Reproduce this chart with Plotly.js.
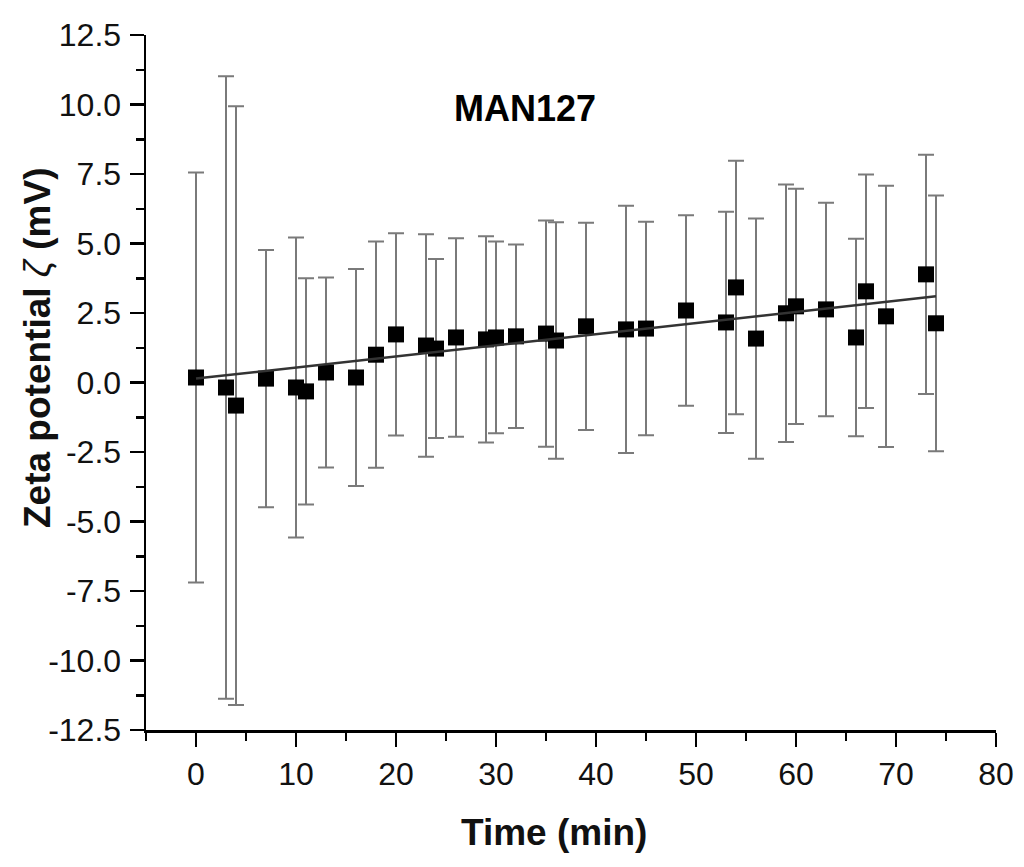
<!DOCTYPE html>
<html>
<head>
<meta charset="utf-8">
<script src="https://cdn.plot.ly/plotly-3.0.1.min.js"></script>
<style>
  html, body { margin: 0; padding: 0; background: #fff; }
  #chart { width: 1024px; height: 867px; }
</style>
</head>
<body>
<div id="chart"></div>
<script>
// Time points (min)
const timeMin = [0, 3, 4, 7, 10, 11, 13, 16, 18, 20, 23, 24, 26, 29, 30, 32, 35, 36,
    39, 43, 45, 49, 53, 54, 56, 59, 60, 63, 66, 67, 69, 73, 74];

// Zeta potential (mV)
const zeta = [0.18, -0.18, -0.83, 0.14, -0.18, -0.32, 0.36, 0.18, 1.0, 1.73, 1.33, 1.22,
    1.62, 1.55, 1.62, 1.66, 1.76, 1.51, 2.02, 1.91, 1.94, 2.59, 2.16, 3.42, 1.58, 2.49,
    2.74, 2.63, 1.62, 3.28, 2.38, 3.89, 2.13];

// Standard deviation (mV)
const zetaErr = [7.37, 11.2, 10.77, 4.63, 5.4, 4.07, 3.42, 3.9, 4.07, 3.64, 4.0, 3.22,
    3.57, 3.71, 3.45, 3.3, 4.07, 4.25, 3.73, 4.45, 3.84, 3.43, 3.98, 4.56, 4.32, 4.63,
    4.23, 3.84, 3.55, 4.2, 4.7, 4.3, 4.6];

// Linear fit end points
const fitX = [0, 74];
const fitY = [0.14, 3.1];

// Axis ticks
const xTicks = [0, 10, 20, 30, 40, 50, 60, 70, 80];
const yTicks = [-12.5, -10, -7.5, -5, -2.5, 0, 2.5, 5, 7.5, 10, 12.5];
const yTickText = ['-12.5', '-10.0', '-7.5', '-5.0', '-2.5', '0.0', '2.5', '5.0', '7.5', '10.0', '12.5'];

const FONT = 'Liberation Sans, Arial, sans-serif';
const tickFont = { family: FONT, size: 32, color: '#111' };
const titleFont = { family: FONT, size: 37, color: '#111' };

const traces = [
    {
        type: 'scatter',
        mode: 'markers',
        x: timeMin,
        y: zeta,
        error_y: {
            type: 'data',
            array: zetaErr,
            visible: true,
            color: '#7a7a7a',
            thickness: 2,
            width: 8
        },
        marker: { symbol: 'square', size: 16, color: '#000' },
        showlegend: false
    },
    {
        type: 'scatter',
        mode: 'lines',
        x: fitX,
        y: fitY,
        line: { color: '#333', width: 2.5 },
        showlegend: false
    }
];

const layout = {
    width: 1024,
    height: 867,
    margin: { l: 146, r: 28, t: 35, b: 137 },
    paper_bgcolor: '#fff',
    plot_bgcolor: '#fff',
    xaxis: {
        range: [-5, 80],
        tickvals: xTicks,
        ticks: 'outside',
        ticklen: 14,
        tickwidth: 2.5,
        tickcolor: '#000',
        minor: { dtick: 5, tick0: -5, ticks: 'outside', ticklen: 8, tickwidth: 2.5, tickcolor: '#000' },
        showline: true,
        linecolor: '#000',
        linewidth: 2.5,
        showgrid: false,
        zeroline: false,
        tickfont: tickFont,
        ticklabelstandoff: 0
    },
    yaxis: {
        range: [-12.5, 12.5],
        tickvals: yTicks,
        ticktext: yTickText,
        ticks: 'outside',
        ticklen: 14,
        tickwidth: 2.5,
        tickcolor: '#000',
        minor: { dtick: 1.25, ticks: 'outside', ticklen: 8, tickwidth: 2.5, tickcolor: '#000' },
        showline: true,
        linecolor: '#000',
        linewidth: 2.5,
        showgrid: false,
        zeroline: false,
        tickfont: tickFont,
        ticklabelstandoff: 2
    },
    annotations: [
        {
            text: '<b>MAN127</b>',
            x: 0.446,
            y: 9.85,
            xref: 'paper',
            yref: 'y',
            showarrow: false,
            font: { family: FONT, size: 36, color: '#000' }
        },
        {
            // x axis title, sits a little left of centre in the original
            text: '<b>Time (min)</b>',
            x: 0.48,
            y: 0,
            xref: 'paper',
            yref: 'paper',
            xanchor: 'center',
            yanchor: 'middle',
            showarrow: false,
            font: titleFont
        },
        {
            text: '<b>Zeta potential </b><i>ζ</i><b> (mV)</b>',
            x: 0,
            y: 0,
            xref: 'paper',
            yref: 'paper',
            xanchor: 'center',
            yanchor: 'middle',
            textangle: -90,
            showarrow: false,
            font: titleFont
        }
    ]
};

// convert the two title positions from pixels to paper units
const plotW = layout.width - layout.margin.l - layout.margin.r;
const plotH = layout.height - layout.margin.t - layout.margin.b;
layout.annotations[1].y = (layout.height - layout.margin.b - 832) / plotH;
layout.annotations[2].x = (37 - layout.margin.l) / plotW;
layout.annotations[2].y = (layout.height - layout.margin.b - 348) / plotH;

Plotly.newPlot('chart', traces, layout, { displayModeBar: false, staticPlot: true });
</script>
</body>
</html>
